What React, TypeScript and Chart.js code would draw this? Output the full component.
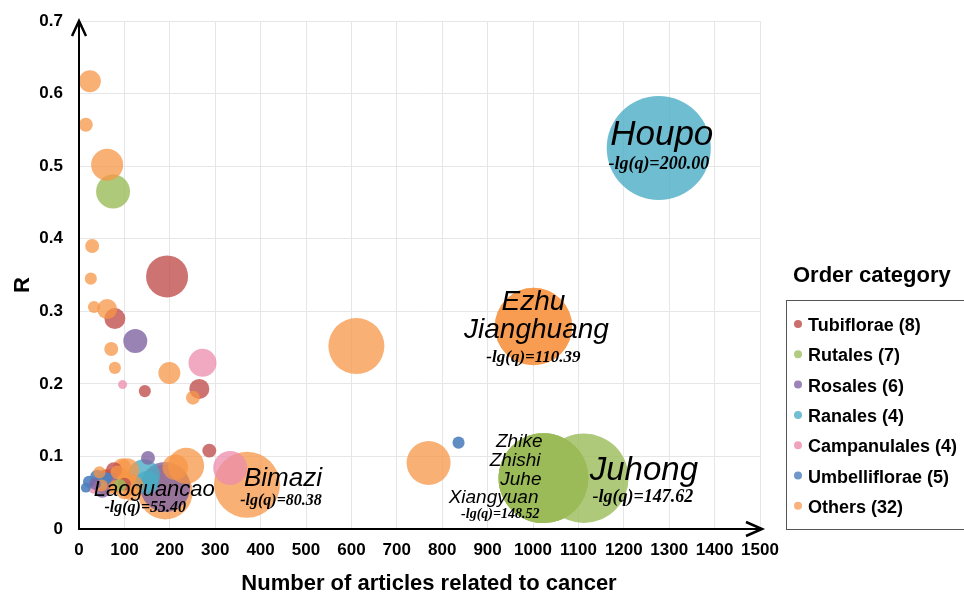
import { useEffect, useRef } from "react";
import { Chart, registerables } from "chart.js";
Chart.register(...registerables);

// ---------- data ----------
const xTickLabels = ["0", "100", "200", "300", "400", "500", "600", "700", "800", "900", "1000", "1100", "1200", "1300", "1400", "1500"];
const yTickLabels = ["0", "0.1", "0.2", "0.3", "0.4", "0.5", "0.6", "0.7"];

const seriesNames = ["Tubiflorae (8)", "Rutales (7)", "Rosales (6)", "Ranales (4)", "Campanulales (4)", "Umbelliflorae (5)", "Others (32)"];

// x = number of articles related to cancer, y = R, q = -lg(q)
const tubifloraeX = [194, 79, 145, 265, 287, 77, 58, 100];
const tubifloraeY = [0.348, 0.29, 0.19, 0.193, 0.108, 0.081, 0.072, 0.062];
const tubifloraeQ = [32.6, 8.1, 2.7, 7.4, 3.6, 4.7, 3.6, 3.0];

const rutalesX = [75, 1023, 1023, 1023, 1023, 1112, 90];
const rutalesY = [0.465, 0.07, 0.07, 0.07, 0.07, 0.07, 0.06];
const rutalesQ = [21.3, 148.52, 148.52, 148.52, 148.52, 147.62, 3.0];

const rosalesX = [124, 152, 190, 51, 70, 35];
const rosalesY = [0.259, 0.098, 0.058, 0.054, 0.068, 0.062];
const rosalesQ = [10.6, 3.6, 46.2, 4.7, 3.6, 2.5];

const ranalesX = [1277, 143, 150, 45];
const ranalesY = [0.525, 0.074, 0.064, 0.066];
const ranalesQ = [200.0, 18.9, 10.0, 3.6];

const campanulalesX = [272, 96, 333, 33];
const campanulalesY = [0.229, 0.199, 0.084, 0.057];
const campanulalesQ = [14.5, 1.5, 21.3, 2.7];

const umbellifloraeX = [836, 40, 22, 15, 60];
const umbellifloraeY = [0.119, 0.072, 0.065, 0.057, 0.07];
const umbellifloraeQ = [2.7, 3.6, 2.7, 1.8, 2.7];

const othersX = [24, 15, 62, 29, 26, 33, 62, 71, 79, 199, 251, 611, 1001, 1001, 370, 190, 770, 236, 212, 106, 62, 90, 120, 45, 100, 100, 80, 95, 110, 50, 115, 85];
const othersY = [0.617, 0.557, 0.502, 0.39, 0.345, 0.306, 0.303, 0.248, 0.222, 0.215, 0.181, 0.252, 0.279, 0.279, 0.061, 0.051, 0.091, 0.087, 0.085, 0.081, 0.065, 0.072, 0.06, 0.078, 0.052, 0.065, 0.058, 0.085, 0.068, 0.06, 0.05, 0.078];
const othersQ = [8.9, 3.6, 18.9, 3.6, 2.7, 2.7, 7.4, 3.6, 2.7, 8.9, 3.6, 57.9, 110.39, 110.39, 80.38, 55.4, 35.7, 24.0, 12.0, 10.6, 12.5, 6.0, 7.4, 2.7, 4.7, 4.7, 3.6, 6.0, 3.6, 2.7, 4.7, 3.6];

// ---------- styles ----------
const seriesColors = [
  "rgba(192,80,77,0.8)",
  "rgba(155,187,89,0.8)",
  "rgba(128,100,162,0.8)",
  "rgba(75,172,198,0.8)",
  "rgba(236,140,172,0.75)",
  "rgba(79,129,189,0.9)",
  "rgba(247,150,70,0.75)",
];
const legendDotColors = ["#cc6e6b", "#b0cc80", "#9b83b9", "#72bed2", "#f0a3bf", "#6f97c9", "#f9b27c"];

const allSeries = [
  [tubifloraeX, tubifloraeY, tubifloraeQ],
  [rutalesX, rutalesY, rutalesQ],
  [rosalesX, rosalesY, rosalesQ],
  [ranalesX, ranalesY, ranalesQ],
  [campanulalesX, campanulalesY, campanulalesQ],
  [umbellifloraeX, umbellifloraeY, umbellifloraeQ],
  [othersX, othersY, othersQ],
];

const SIZE_K = 3.68;

type Line = { t: string; font: string; dx: number; dy: number; align: CanvasTextAlign };
type Annot = { s: number; i: number; names: Line[]; q: Line };

const SANS_I = (px: number) => `italic ${px}px Arial, "Liberation Sans", sans-serif`;
const SERIF_BI = (px: number) => `italic bold ${px}px "Times New Roman", "Liberation Serif", serif`;

const annotations: Annot[] = [
  { s: 3, i: 0, names: [{ t: "Houpo", font: SANS_I(35), dx: 3, dy: -3, align: "center" }], q: { t: "", font: SERIF_BI(18), dx: 0, dy: 21, align: "center" } },
  {
    s: 6, i: 12,
    names: [
      { t: "Ezhu", font: SANS_I(28), dx: 0, dy: -17, align: "center" },
      { t: "Jianghuang", font: SANS_I(28), dx: 3, dy: 11, align: "center" },
    ],
    q: { t: "", font: SERIF_BI(17), dx: 0, dy: 35, align: "center" },
  },
  {
    s: 1, i: 1,
    names: [
      { t: "Zhike", font: SANS_I(19), dx: -1, dy: -31, align: "right" },
      { t: "Zhishi", font: SANS_I(19), dx: -3, dy: -12, align: "right" },
      { t: "Juhe", font: SANS_I(19), dx: -2, dy: 7, align: "right" },
      { t: "Xiangyuan", font: SANS_I(19), dx: -5, dy: 25, align: "right" },
    ],
    q: { t: "", font: SERIF_BI(14), dx: -4, dy: 40, align: "right" },
  },
  { s: 1, i: 5, names: [{ t: "Juhong", font: SANS_I(33), dx: 60, dy: 2, align: "center" }], q: { t: "", font: SERIF_BI(18), dx: 59, dy: 24, align: "center" } },
  { s: 6, i: 14, names: [{ t: "Bimazi", font: SANS_I(26), dx: 36, dy: 1, align: "center" }], q: { t: "", font: SERIF_BI(16), dx: 34, dy: 20, align: "center" } },
  { s: 6, i: 15, names: [{ t: "Laoguancao", font: SANS_I(22), dx: -11, dy: 4, align: "center" }], q: { t: "", font: SERIF_BI(16), dx: -20, dy: 20, align: "center" } },
];

const overlayPlugin = {
  id: "overlay",
  afterDatasetsDraw(chart: any) {
    const { ctx, chartArea, scales } = chart;
    const xs = scales.x, ys = scales.y;
    ctx.save();
    // annotations
    ctx.fillStyle = "#000";
    ctx.textBaseline = "alphabetic";
    for (const a of annotations) {
      const [sx, sy, sq] = allSeries[a.s];
      const px = xs.getPixelForValue(sx[a.i]);
      const py = ys.getPixelForValue(sy[a.i]);
      for (const l of a.names) {
        ctx.font = l.font;
        ctx.textAlign = l.align;
        ctx.fillText(l.t, px + l.dx, py + l.dy);
      }
      ctx.font = a.q.font;
      ctx.textAlign = a.q.align;
      ctx.fillText(`-lg(q)=${sq[a.i].toFixed(2)}`, px + a.q.dx, py + a.q.dy);
    }
    // axes with arrows
    const L = chartArea.left, B = chartArea.bottom, T = chartArea.top, R = chartArea.right;
    ctx.strokeStyle = "#000";
    ctx.lineWidth = 2;
    ctx.lineCap = "butt";
    ctx.beginPath();
    ctx.moveTo(L, B + 1);
    ctx.lineTo(L, T);
    ctx.moveTo(L - 1, B);
    ctx.lineTo(R + 2, B);
    ctx.stroke();
    ctx.lineWidth = 2.5;
    ctx.lineJoin = "miter";
    ctx.beginPath();
    ctx.moveTo(L - 7, T + 15);
    ctx.lineTo(L, T);
    ctx.lineTo(L + 7, T + 15);
    ctx.moveTo(R - 14, B - 7);
    ctx.lineTo(R + 2, B);
    ctx.lineTo(R - 14, B + 7);
    ctx.stroke();
    // axis titles
    ctx.fillStyle = "#000";
    ctx.font = 'bold 22px Arial, "Liberation Sans", sans-serif';
    ctx.textAlign = "center";
    ctx.textBaseline = "middle";
    ctx.fillText("Number of articles related to cancer", 429, 584);
    ctx.save();
    ctx.translate(23, 285);
    ctx.rotate(-Math.PI / 2);
    ctx.fillText("R", 0, 0);
    ctx.restore();
    // legend
    ctx.font = 'bold 22px Arial, "Liberation Sans", sans-serif';
    ctx.textAlign = "left";
    ctx.textBaseline = "alphabetic";
    ctx.fillText("Order category", 793, 282);
    ctx.strokeStyle = "#555";
    ctx.lineWidth = 1;
    ctx.strokeRect(786.5, 300.5, 220, 229);
    ctx.font = 'bold 18px Arial, "Liberation Sans", sans-serif';
    seriesNames.forEach((name, k) => {
      const by = 331 + k * 30.3;
      ctx.fillStyle = legendDotColors[k];
      ctx.beginPath();
      ctx.arc(798, by - 7, 4, 0, Math.PI * 2);
      ctx.fill();
      ctx.fillStyle = "#000";
      ctx.fillText(name, 808, by);
    });
    ctx.restore();
  },
};

export default function App() {
  const ref = useRef<HTMLCanvasElement>(null);
  useEffect(() => {
    document.body.style.margin = "0";
    const points: any[] = [];
    allSeries.forEach(([sx, sy, sq], s) => {
      sx.forEach((x, i) => points.push({ x, y: sy[i], r: SIZE_K * Math.sqrt(sq[i]), q: sq[i], c: s }));
    });
    points.sort((a, b) => b.q - a.q);
    const tickFont = { family: 'Arial, "Liberation Sans", sans-serif', size: 17, weight: "bold" as const };
    const chart = new Chart(ref.current!, {
      type: "bubble",
      data: {
        datasets: [
          {
            data: points,
            backgroundColor: (c: any) => seriesColors[c.raw ? c.raw.c : 0],
            borderWidth: 0,
            clip: false,
          } as any,
        ],
      },
      options: {
        responsive: false,
        animation: false,
        events: [],
        layout: { autoPadding: false, padding: { left: 0, top: 21, right: 204, bottom: 0 } },
        plugins: { legend: { display: false }, tooltip: { enabled: false } },
        scales: {
          x: {
            type: "linear",
            min: 0,
            max: 1500,
            ticks: {
              stepSize: 100,
              color: "#000",
              font: tickFont,
              padding: 11,
              maxRotation: 0,
              autoSkip: false,
              callback: (v: any) => xTickLabels[Math.round(Number(v) / 100)] ?? "",
            },
            grid: { color: "#e6e6e6", lineWidth: 1, drawTicks: false },
            border: { display: false },
            afterFit: (s: any) => { s.height = 66; s.paddingLeft = 0; s.paddingRight = 0; },
          },
          y: {
            type: "linear",
            min: 0,
            max: 0.7,
            ticks: {
              stepSize: 0.1,
              color: "#000",
              font: tickFont,
              padding: 16,
              autoSkip: false,
              callback: (v: any) => yTickLabels[Math.round(Number(v) * 10)] ?? "",
            },
            grid: { color: "#e6e6e6", lineWidth: 1, drawTicks: false },
            border: { display: false },
            afterFit: (s: any) => { s.width = 79; s.paddingTop = 0; s.paddingBottom = 0; },
          },
        },
      } as any,
      plugins: [overlayPlugin],
    });
    return () => chart.destroy();
  }, []);
  return <canvas ref={ref} width={964} height={595} style={{ display: "block" }} />;
}
